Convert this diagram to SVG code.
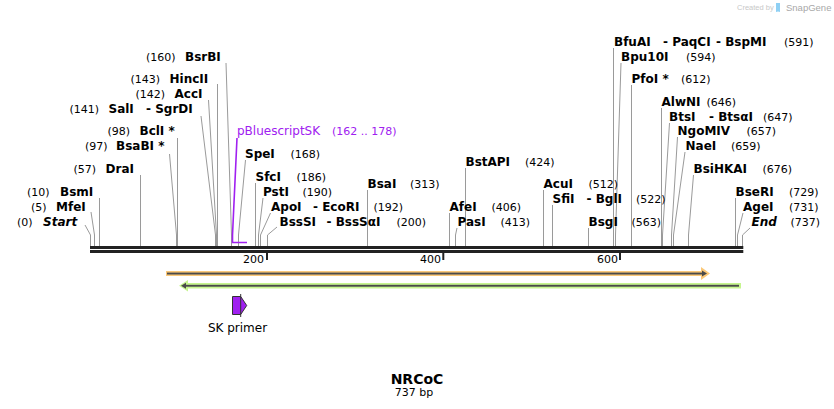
<svg xmlns="http://www.w3.org/2000/svg" width="834" height="409" viewBox="0 0 834 409">
<style>
text{font-family:"DejaVu Sans","Verdana",sans-serif;fill:#000}
.n{font-size:12px;font-weight:bold}
.i{font-size:12px;font-weight:bold;font-style:italic}
.p{font-size:11px}
.cl{fill:none;stroke:#9a9a9a;stroke-width:1}
</style>
<rect width="834" height="409" fill="#fff"/>
<g id="watermark">
<text x="737" y="10" style="font-family:'Liberation Sans',Arial,sans-serif;font-size:7.5px;fill:#c8c8c8">Created by</text>
<path d="M776,3 h4 v9 q-2,-1 -4,0 z" fill="#8fd0f4"/>
<text x="786" y="11" style="font-family:'Liberation Sans',Arial,sans-serif;font-size:9.5px;fill:#a8a8a8">SnapGene</text>
</g>
<g id="connectors">
<polyline class="cl" points="85,225 90.5,235 90.5,246"/>
<polyline class="cl" points="91,212 94.5,235 94.5,246"/>
<polyline class="cl" points="99.5,198 99.5,246"/>
<polyline class="cl" points="140.5,175 140.5,246"/>
<polyline class="cl" points="169.5,154 176.5,235 176.5,246"/>
<polyline class="cl" points="177.5,138 177.5,246"/>
<polyline class="cl" points="201,116 215.5,235 215.5,246"/>
<polyline class="cl" points="208.5,100 216.5,235 216.5,246"/>
<polyline class="cl" points="217.5,84 217.5,246"/>
<polyline class="cl" points="226,63 231.5,235 231.5,246"/>
<polyline class="cl" points="245.5,160 238.5,235 238.5,246"/>
<polyline class="cl" points="255.5,183 255.5,246"/>
<polyline class="cl" points="263,198 258.5,235 258.5,246"/>
<polyline class="cl" points="270.5,213 260.5,235 260.5,246"/>
<polyline class="cl" points="277,227 267.5,235 267.5,246"/>
<polyline class="cl" points="367.5,190 367.5,246"/>
<polyline class="cl" points="449.5,213 449.5,246"/>
<polyline class="cl" points="457,228 455.5,235 455.5,246"/>
<polyline class="cl" points="465.5,168 465.5,246"/>
<polyline class="cl" points="543.5,190 543.5,246"/>
<polyline class="cl" points="552.5,205 552.5,246"/>
<polyline class="cl" points="588.5,228 588.5,246"/>
<polyline class="cl" points="613.5,48 613.5,246"/>
<polyline class="cl" points="621,63 615.5,235 615.5,246"/>
<polyline class="cl" points="631.5,85 631.5,246"/>
<polyline class="cl" points="661.5,108 661.5,246"/>
<polyline class="cl" points="669.5,123 662.5,235 662.5,246"/>
<polyline class="cl" points="677.5,137 671.5,235 671.5,246"/>
<polyline class="cl" points="685,152 673.5,235 673.5,246"/>
<polyline class="cl" points="693.5,175 688.5,235 688.5,246"/>
<polyline class="cl" points="735.5,198 735.5,246"/>
<polyline class="cl" points="743,213 737.5,235 737.5,246"/>
<polyline class="cl" points="750,228 742.5,235 742.5,246"/>
<polyline points="237,138 232.5,235 232.5,242.5 247,242.5" fill="none" stroke="#a020f0" stroke-width="1.6"/>
</g>
<g id="backbone">
<rect x="90" y="246" width="653.3" height="3" fill="#222"/>
<rect x="90" y="250" width="653.3" height="3" fill="#222"/>
<rect x="266" y="253" width="2" height="7" fill="#222"/>
<rect x="442.3" y="253" width="2" height="7" fill="#222"/>
<rect x="619" y="253" width="2" height="7" fill="#222"/>
<text class="p" x="264" y="263" text-anchor="end">200</text>
<text class="p" x="441" y="263" text-anchor="end">400</text>
<text class="p" x="618" y="263" text-anchor="end">600</text>
</g>
<g id="site-start"><text class="p" x="17" y="226">(0)</text><text class="i" x="43" y="226">Start</text></g>
<g id="site-MfeI"><text class="p" x="31" y="211">(5)</text><text class="n" x="56" y="211">MfeI</text></g>
<g id="site-BsmI"><text class="p" x="27" y="196">(10)</text><text class="n" x="60" y="196">BsmI</text></g>
<g id="site-DraI"><text class="p" x="73.5" y="173">(57)</text><text class="n" x="105.5" y="173">DraI</text></g>
<g id="site-BsaBI"><text class="p" x="85" y="150">(97)</text><text class="n" x="116" y="150">BsaBI *</text></g>
<g id="site-BclI"><text class="p" x="107.5" y="135">(98)</text><text class="n" x="139.5" y="135">BclI *</text></g>
<g id="site-SalI"><text class="p" x="69.5" y="113">(141)</text><text class="n" x="108.5" y="113">SalI</text><text class="n" x="146" y="113">- SgrDI</text></g>
<g id="site-AccI"><text class="p" x="135.5" y="98">(142)</text><text class="n" x="174.5" y="98">AccI</text></g>
<g id="site-HincII"><text class="p" x="130.5" y="83">(143)</text><text class="n" x="169.5" y="83">HincII</text></g>
<g id="site-BsrBI"><text class="p" x="146" y="61">(160)</text><text class="n" x="185" y="61">BsrBI</text></g>
<g id="feature-pBluescriptSK"><text x="237" y="135" style="font-size:12px;fill:#a020f0">pBluescriptSK</text><text x="332" y="135" style="font-size:11px;fill:#a020f0">(162 .. 178)</text></g>
<g id="site-SpeI"><text class="n" x="245" y="158">SpeI</text><text class="p" x="290.5" y="158">(168)</text></g>
<g id="site-SfcI"><text class="n" x="255.5" y="181">SfcI</text><text class="p" x="296.5" y="181">(186)</text></g>
<g id="site-PstI"><text class="n" x="263" y="196">PstI</text><text class="p" x="302.5" y="196">(190)</text></g>
<g id="site-ApoI"><text class="n" x="271" y="211">ApoI</text><text class="n" x="313" y="211">- EcoRI</text><text class="p" x="373.5" y="211">(192)</text></g>
<g id="site-BssSI"><text class="n" x="279.5" y="226">BssSI</text><text class="n" x="326.5" y="226">- BssSαI</text><text class="p" x="396.5" y="226">(200)</text></g>
<g id="site-BsaI"><text class="n" x="367.5" y="188">BsaI</text><text class="p" x="410" y="188">(313)</text></g>
<g id="site-BstAPI"><text class="n" x="465.5" y="166">BstAPI</text><text class="p" x="525" y="166">(424)</text></g>
<g id="site-AfeI"><text class="n" x="449.5" y="211">AfeI</text><text class="p" x="491.5" y="211">(406)</text></g>
<g id="site-PasI"><text class="n" x="457.5" y="226">PasI</text><text class="p" x="500.5" y="226">(413)</text></g>
<g id="site-AcuI"><text class="n" x="543.5" y="188">AcuI</text><text class="p" x="588.5" y="188">(512)</text></g>
<g id="site-SfiI"><text class="n" x="552.5" y="203">SfiI</text><text class="n" x="586.5" y="203">- BglI</text><text class="p" x="636" y="203">(522)</text></g>
<g id="site-BsgI"><text class="n" x="588.5" y="226">BsgI</text><text class="p" x="631.5" y="226">(563)</text></g>
<g id="site-BfuAI"><text class="n" x="614" y="46">BfuAI</text><text class="n" x="663" y="46">- PaqCI</text><text class="n" x="716" y="46">- BspMI</text><text class="p" x="784" y="46">(591)</text></g>
<g id="site-Bpu10I"><text class="n" x="621" y="61">Bpu10I</text><text class="p" x="686" y="61">(594)</text></g>
<g id="site-PfoI"><text class="n" x="631.5" y="83">PfoI *</text><text class="p" x="681" y="83">(612)</text></g>
<g id="site-AlwNI"><text class="n" x="661.5" y="106">AlwNI</text><text class="p" x="706.5" y="106">(646)</text></g>
<g id="site-BtsI"><text class="n" x="669" y="121">BtsI</text><text class="n" x="709" y="121">- BtsαI</text><text class="p" x="763" y="121">(647)</text></g>
<g id="site-NgoMIV"><text class="n" x="677.5" y="135">NgoMIV</text><text class="p" x="746.5" y="135">(657)</text></g>
<g id="site-NaeI"><text class="n" x="685.5" y="150">NaeI</text><text class="p" x="731" y="150">(659)</text></g>
<g id="site-BsiHKAI"><text class="n" x="693.5" y="173">BsiHKAI</text><text class="p" x="762.5" y="173">(676)</text></g>
<g id="site-BseRI"><text class="n" x="735.5" y="196">BseRI</text><text class="p" x="789" y="196">(729)</text></g>
<g id="site-AgeI"><text class="n" x="743" y="211">AgeI</text><text class="p" x="789" y="211">(731)</text></g>
<g id="site-end"><text class="i" x="751.5" y="226">End</text><text class="p" x="790.5" y="226">(737)</text></g>
<g id="feature-orange">
<path d="M166,271 L701,271 L701,267 L710,273.5 L701,280 L701,276 L166,276 Z" fill="#fbc878"/>
<rect x="167" y="272.6" width="536" height="1.9" fill="#4a4a4a"/>
<path d="M702,270.5 L707,273.5 L702,276.5 Z" fill="#4a4a4a"/>
</g>
<g id="feature-green">
<path d="M741,283 L188,283 L188,280 L179,285.7 L188,291.5 L188,288.5 L741,288.5 Z" fill="#c6f58f"/>
<rect x="184" y="284.8" width="555" height="1.9" fill="#4a4a4a"/>
<path d="M186,282.7 L181,285.7 L186,288.7 Z" fill="#4a4a4a"/>
</g>
<g id="primer-SK">
<path d="M232.5,296.5 L240.7,296.5 L246.7,305.5 L240.7,314.5 L232.5,314.5 Z" fill="#a020f0" stroke="#333" stroke-width="1"/>
<line x1="240.7" y1="294" x2="240.7" y2="317" stroke="#333" stroke-width="1"/>
<text x="237.5" y="332" text-anchor="middle" style="font-size:12px">SK primer</text>
</g>
<g id="title">
<text x="417" y="384" text-anchor="middle" style="font-size:14px;font-weight:bold">NRCoC</text>
<text x="414" y="396" text-anchor="middle" style="font-size:11px">737 bp</text>
</g>
</svg>
